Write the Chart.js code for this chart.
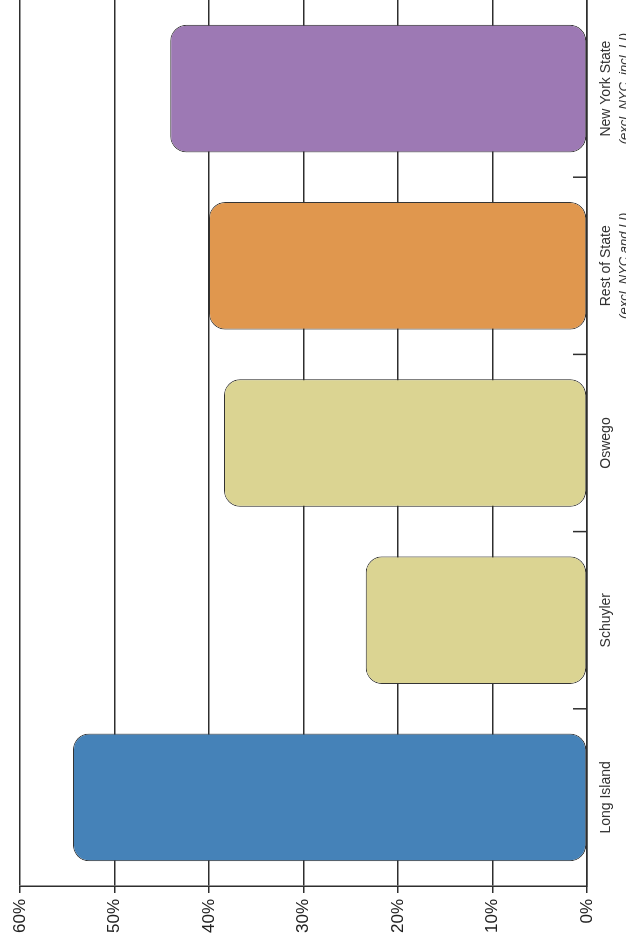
<!DOCTYPE html>
<html>
<head>
<meta charset="utf-8">
<script src="https://cdn.jsdelivr.net/npm/chart.js@4/dist/chart.umd.min.js"></script>
<style>
  html, body { margin: 0; padding: 0; background: #fff; overflow: hidden; }
  body { width: 626px; height: 941px; position: relative; }
  /* chart is drawn upright (941 x 626) and turned a quarter left */
  #wrap {
    position: absolute; left: 0; top: 0;
    width: 941px; height: 626px;
    transform-origin: 0 0;
    transform: translateY(941px) rotate(-90deg);
  }
</style>
</head>
<body>
<div id="wrap">
  <canvas id="chart" width="941" height="626"></canvas>
</div>
<script>
  // Données
  const categories = ['Long Island', 'Schuyler', 'Oswego', 'Rest of State', 'New York State'];
  const subLabels = ['', '', '', '(excl. NYC and LI)', '(excl. NYC, incl. LI)'];
  const shares = [54.4, 23.4, 38.4, 40.0, 44.1];
  const barColors = ['#4582b8', '#dbd492', '#dbd492', '#e0974e', '#9d79b4'];
  const valueMax = 60;
  const valueStep = 10;

  const lineColor = '#2e2e2e';

  // petits traits vers l'intérieur entre les catégories + sous-titres en italique
  const extras = {
    id: 'extras',
    afterDraw(chart) {
      const ctx = chart.ctx;
      const x = chart.scales.x;
      const bottom = chart.chartArea.bottom;
      ctx.save();
      ctx.strokeStyle = lineColor;
      ctx.lineWidth = 1.5;
      for (let i = 0; i < categories.length - 1; i++) {
        const px = (x.getPixelForValue(i) + x.getPixelForValue(i + 1)) / 2;
        ctx.beginPath();
        ctx.moveTo(px, bottom);
        ctx.lineTo(px, bottom - 14);
        ctx.stroke();
      }
      ctx.fillStyle = '#333';
      ctx.font = 'italic 13px "Liberation Sans", Arial, sans-serif';
      ctx.textAlign = 'center';
      ctx.textBaseline = 'top';
      subLabels.forEach((s, i) => {
        if (s) ctx.fillText(s, x.getPixelForValue(i), bottom + 31);
      });
      ctx.restore();
    }
  };

  const data = {
    labels: categories,
    datasets: [{
      data: shares,
      backgroundColor: barColors,
      borderColor: '#333',
      borderWidth: 1,
      borderRadius: 16,
      borderSkipped: false,
      barPercentage: 0.72,
      categoryPercentage: 1
    }]
  };

  const config = {
    type: 'bar',
    data: data,
    options: {
      responsive: false,
      animation: false,
      layout: { padding: { top: 20, right: 0, bottom: 0, left: 0 } },
      plugins: {
        legend: { display: false },
        tooltip: { enabled: false }
      },
      scales: {
        x: {
          grid: { display: true, drawOnChartArea: false, drawTicks: false },
          border: { display: true, color: lineColor, width: 1.5 },
          ticks: {
            color: '#333',
            padding: 11,
            maxRotation: 0,
            font: { family: '"Liberation Sans", Arial, sans-serif', size: 14 }
          },
          afterFit: (s) => { s.height = 39; }
        },
        y: {
          min: 0,
          max: valueMax,
          grid: { color: lineColor, lineWidth: 1.5, tickLength: 7 },
          border: { display: true, color: lineColor, width: 1.5 },
          ticks: {
            stepSize: valueStep,
            color: '#222',
            padding: 6,
            font: { family: '"Liberation Sans", Arial, sans-serif', size: 17 },
            callback: v => v + '%'
          },
          afterFit: (s) => { s.width = 55; }
        }
      }
    },
    plugins: [extras]
  };

  const chart = new Chart(document.getElementById('chart'), config);
</script>
</body>
</html>
